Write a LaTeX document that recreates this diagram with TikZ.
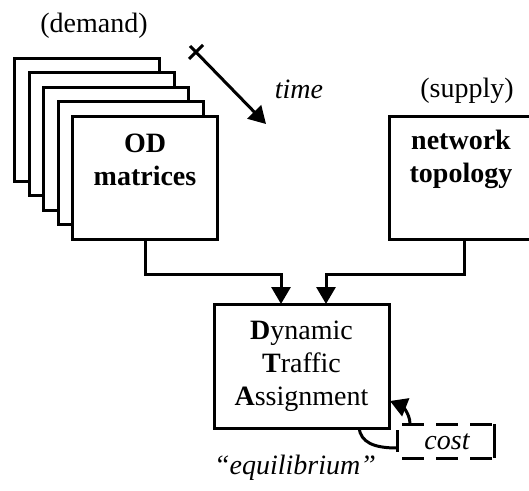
\documentclass[tikz,border=0pt]{standalone}
\usepackage{fontspec}
\setmainfont{Liberation Serif}
\usetikzlibrary{arrows.meta,calc}

\begin{document}
\begin{tikzpicture}[x=1pt,y=-1pt,line width=3pt,
  every node/.style={font=\fontsize{28}{33}\selectfont,inner sep=0pt,outer sep=0pt},
  sheet/.style={draw,fill=white,minimum width=145pt,minimum height=123pt},
  block/.style={draw,fill=white,minimum width=#1,minimum height=123pt},
  flow/.style={-{Triangle[width=19pt,length=17pt]}},
  lbl/.style={align=center},
  costdash/.style={dash pattern=on 22pt off 12pt,dash phase=29pt},
]
\clip (0,0) rectangle (529,490);

% stack of time-sliced demand matrices, back to front
\foreach \i in {0,...,4}{
  \node[sheet] (od\i) at (87+14.5*\i,119.5+14.5*\i) {};
}
\node[lbl] (odtext) at (145,160) {\textbf{OD}\\\textbf{matrices}};
\node (demand) at (94,26) {(demand)};

% time axis
\coordinate (t0) at (196,52);
\coordinate (t1) at (266,124);
\draw[flow] ($(t0)+(-6,-6)$) -- (t1);
\draw ($(t0)+(-7,7)$) -- ($(t0)+(7,-7)$);
\node (time) at (299,89) {\itshape time};

% network supply
\node[block=150pt] (net) at (464,178) {};
\node[lbl] (nettext) at (461,159) {\textbf{network}\\\textbf{topology}};
\node (supply) at (467,91) {(supply)};

% assignment model
\node[draw,fill=white,minimum width=175pt,minimum height=124pt,lbl] (dta) at (301.5,366)
  {\textbf{D}ynamic\\\textbf{T}raffic\\\textbf{A}ssignment};

% inputs into the assignment
\coordinate (jL) at (281,274);
\coordinate (jR) at (326,274);
\draw[flow] (od4.south) |- (jL) -- (jL |- dta.north);
\draw[flow] (net.south) |- (jR) -- (jR |- dta.north);

% cost feedback loop
\node[minimum width=97pt,minimum height=34pt] (cost) at (445.5,441) {};
\node (costtext) at (447,442) {\itshape cost};
\draw[costdash] (cost.north west) -- (cost.north east);
\draw[costdash] (cost.south west) -- (cost.south east);
\draw (cost.north east) -- (cost.south east);
\draw ($(cost.west)+(0,-11)$) -- ($(cost.west)+(0,11)$);

\coordinate (fb1) at ($(dta.south)+(57.5,0)$);
\coordinate (fb2) at ($(cost.west)+(0,7)$);
\draw (fb1) .. controls ($(fb1)+(2,14)$) and ($(fb2)+(-24,0)$) .. (fb2);

\coordinate (fb3) at ($(cost.north west)+(13,0)$);
\coordinate (fb4) at ($(dta.east)+(1,35)$);
\draw[flow] (fb3) .. controls ($(fb3)+(0,-12)$) and ($(fb4)+(10,4)$) .. (fb4);

\node (equil) at (295,468) {\itshape ``equilibrium''};
\end{tikzpicture}
\end{document}
